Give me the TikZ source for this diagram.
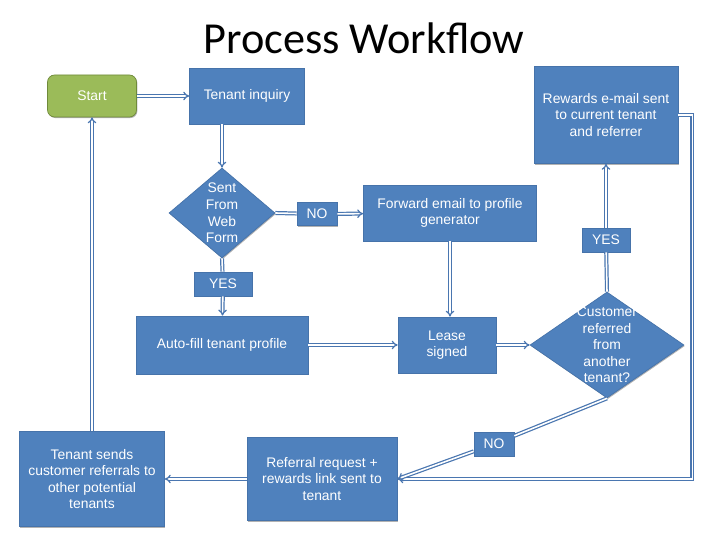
\documentclass[tikz,border=0pt]{standalone}
\usepackage{fontspec}
\setmainfont{Liberation Sans}
\newfontfamily\titlefont{Carlito}
\usetikzlibrary{shapes.geometric,arrows.meta,shadows}

\definecolor{boxblue}{HTML}{4F81BD}
\definecolor{boxedge}{HTML}{4673AA}
\definecolor{startgreen}{HTML}{9BBB59}
\definecolor{startedge}{HTML}{6F8A3A}
\definecolor{linkblue}{HTML}{4A76B0}

\tikzset{
    boxfont/.style={font=\fontsize{7.9}{9.4}\selectfont},
    box/.style={rectangle, fill=boxblue, draw=boxedge, line width=0.4pt,
        text=white, boxfont, align=center, inner sep=1pt,
        drop shadow={shadow xshift=0.5pt, shadow yshift=-0.6pt, fill=black!30, opacity=1}},
    startbox/.style={box, fill=startgreen, draw=startedge, rounded corners=4pt},
    decision/.style={diamond, fill=boxblue, draw=boxedge, line width=0.4pt, inner sep=0pt,
        drop shadow={shadow xshift=0.5pt, shadow yshift=-0.6pt, fill=black!30, opacity=1}},
    dtext/.style={text=white, boxfont, align=center},
    tag/.style={box, inner sep=0pt},
    link/.style={draw=linkblue, double=white, double distance=0.9pt, line width=0.7pt},
    flow/.style={link, -{Implies[scale=1.2]}}
}

\begin{document}
\begin{tikzpicture}[x=0.02cm, y=-0.02cm]
    \useasboundingbox (0,0) rectangle (728,546);

    % title
    \node (title) at (364,38) {\titlefont\fontsize{25.2}{30}\selectfont Process Workflow};

    % top row
    \node[startbox, minimum width=1.78cm, minimum height=0.84cm] (start) at (92,96) {Start};
    \node[box, minimum width=2.3cm, minimum height=1.12cm] (inquiry) at (247,96) {Tenant inquiry};
    \node[box, minimum width=2.88cm, minimum height=1.94cm] (rewards) at (606,115)
        {Rewards e-mail sent\\to current tenant\\and referrer};

    % web form check
    \node[decision, minimum width=2.12cm, minimum height=1.8cm,
        label={[dtext]center:Sent\\From\\Web\\Form}] (webq) at (222,213) {};
    \node[tag, minimum width=0.8cm, minimum height=0.46cm] (no1) at (317,214) {NO};
    \node[box, minimum width=3.46cm, minimum height=1.12cm] (fwd) at (450,213)
        {Forward email to profile\\generator};
    \node[tag, minimum width=1.16cm, minimum height=0.48cm] (yes1) at (223,284) {YES};
    \node[tag, minimum width=0.96cm, minimum height=0.48cm] (yes2) at (606,240) {YES};

    % middle row
    \node[box, minimum width=3.44cm, minimum height=1.16cm] (autofill) at (222,345) {Auto-fill tenant profile};
    \node[box, minimum width=1.96cm, minimum height=1.12cm] (lease) at (447,345) {Lease\\signed};
    \node[decision, minimum width=3.08cm, minimum height=2.12cm,
        label={[dtext]center:Customer\\referred\\from\\another\\tenant?}] (refq) at (607,345) {};

    % bottom row
    \node[tag, minimum width=0.8cm, minimum height=0.48cm] (no2) at (494,444) {NO};
    \node[box, minimum width=3.0cm, minimum height=1.66cm] (referral) at (322,479)
        {Referral request +\\rewards link sent to\\tenant};
    \node[box, minimum width=2.9cm, minimum height=1.9cm] (sends) at (92,479)
        {Tenant sends\\customer referrals to\\other potential\\tenants};

    % connectors
    \draw[flow] (start) -- (inquiry);
    \draw[flow] (inquiry.south -| webq.north) -- (webq.north);
    \draw[link] (webq.east) -- (no1);
    \draw[flow] (no1) -- (fwd);
    \draw[link] (webq.south) -- (yes1);
    \draw[flow] (yes1) -- (autofill);
    \draw[flow] (fwd.south) -- (fwd.south |- lease.north);
    \draw[flow] (autofill) -- (lease);
    \draw[flow] (lease) -- (refq);
    \draw[link] (refq.north) -- (yes2);
    \draw[flow] (yes2) -- (rewards);
    \draw[flow] (rewards.east) -- ++(14,0) |- (referral.east);
    \draw[link] (refq.south) -- (no2);
    \draw[flow] (no2) -- (referral.east);
    \draw[flow] (referral) -- (sends);
    \draw[flow] (sends) -- (start);
\end{tikzpicture}
\end{document}
